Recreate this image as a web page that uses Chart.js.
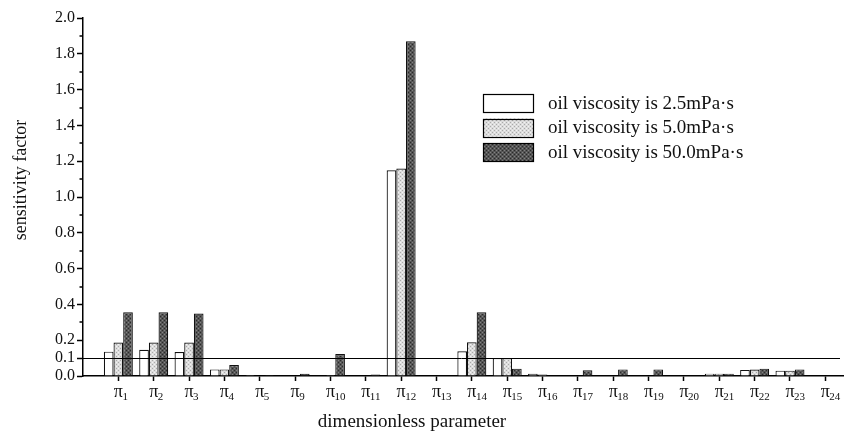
<!DOCTYPE html>
<html>
<head>
<meta charset="utf-8">
<script src="https://cdn.jsdelivr.net/npm/chart.js@4.4.0/dist/chart.umd.min.js"></script>
<style>
    body { margin: 0; background: #fff; }
    canvas { display: block; }
</style>
</head>
<body>
<canvas id="sensChart" width="848" height="433"></canvas>
<script>
// subscripts of the dimensionless parameters (pi_n)
const piIndex = [1, 2, 3, 4, 5, 9, 10, 11, 12, 13, 14, 15, 16, 17, 18, 19, 20, 21, 22, 23, 24];
const seriesLabels = ['oil viscosity is 2.5mPa\u00b7s', 'oil viscosity is 5.0mPa\u00b7s', 'oil viscosity is 50.0mPa\u00b7s'];

const visc25 = [0.136, 0.147, 0.134, 0.037, 0.006, 0, 0.004, 0, 1.149, 0, 0.138, 0.100, 0.012, 0, 0.003, 0.004, 0.004, 0.013, 0.034, 0.030, 0];
const visc50 = [0.187, 0.187, 0.187, 0.037, 0.003, 0, 0.005, 0, 1.159, 0, 0.188, 0.100, 0.008, 0.003, 0.003, 0.004, 0.004, 0.013, 0.036, 0.030, 0];
const visc500 = [0.356, 0.356, 0.349, 0.061, 0.005, 0.012, 0.123, 0.008, 1.870, 0, 0.356, 0.041, 0.004, 0.032, 0.037, 0.037, 0.004, 0.013, 0.041, 0.037, 0];

const yMajorLabels = [0.0, 0.1, 0.2, 0.4, 0.6, 0.8, 1.0, 1.2, 1.4, 1.6, 1.8, 2.0];
const threshold = 0.1;

const SERIF = '"Liberation Serif", "Times New Roman", serif';

function isMajor(v) {
    return yMajorLabels.some(m => Math.abs(m - v) < 1e-6);
}

function makePattern(base, dots) {
    const c = document.createElement('canvas');
    c.width = 4; c.height = 4;
    const g = c.getContext('2d');
    g.fillStyle = base;
    g.fillRect(0, 0, 4, 4);
    dots.forEach(d => {
        g.fillStyle = d[2];
        g.fillRect(d[0], d[1], 1, 1);
    });
    return g.createPattern(c, 'repeat');
}

const lightFill = makePattern('#dcdcdc', [[0, 0, '#aaa'], [2, 2, '#aaa'], [2, 0, '#f2f2f2'], [0, 2, '#f2f2f2']]);
const darkFill = makePattern('#555', [[0, 0, '#2a2a2a'], [2, 2, '#2a2a2a'], [2, 0, '#828282'], [0, 2, '#828282']]);

function toPoints(values) {
    return values.map((v, i) => ({ x: i + 1, y: v }));
}

const refMarks = {
    id: 'refMarks',
    afterDatasetsDraw(chart) {
        const { ctx, chartArea, scales: { y } } = chart;
        const ty = Math.round(y.getPixelForValue(threshold)) + 0.5;
        ctx.save();
        ctx.strokeStyle = '#000';
        ctx.lineWidth = 1;
        ctx.beginPath();
        ctx.moveTo(chartArea.left, ty);
        ctx.lineTo(chartArea.right - 3, ty);
        ctx.stroke();
        ctx.restore();
    },
    afterDraw(chart) {
        const { ctx, chartArea, scales: { x, y } } = chart;
        ctx.save();

        // minor y ticks
        ctx.strokeStyle = '#000';
        ctx.lineWidth = 1.5;
        y.ticks.forEach(t => {
            if (isMajor(t.value)) return;
            const py = Math.round(y.getPixelForValue(t.value));
            ctx.beginPath();
            ctx.moveTo(chartArea.left - 3.5, py);
            ctx.lineTo(chartArea.left, py);
            ctx.stroke();
        });

        // pi labels on the x axis
        ctx.fillStyle = '#111';
        ctx.textBaseline = 'alphabetic';
        piIndex.forEach((n, i) => {
            const px = x.getPixelForValue(i + 1);
            ctx.font = '18px ' + SERIF;
            ctx.textAlign = 'center';
            ctx.fillText('\u03c0', px, 397);
            const w = ctx.measureText('\u03c0').width;
            ctx.font = '11px ' + SERIF;
            ctx.textAlign = 'left';
            ctx.fillText(String(n), px + w / 2 - 0.5, 400);
        });

        // axis titles
        ctx.font = '19px ' + SERIF;
        ctx.textAlign = 'center';
        ctx.fillText('dimensionless parameter', 412, 427);

        ctx.save();
        ctx.translate(26, 180);
        ctx.rotate(-Math.PI / 2);
        ctx.font = '18px ' + SERIF;
        ctx.fillText('sensitivity factor', 0, 0);
        ctx.restore();

        // legend
        chart.data.datasets.forEach((ds, i) => {
            const top = 94 + i * 24.5;
            ctx.fillStyle = ds.backgroundColor;
            ctx.fillRect(483, top, 50, 18);
            ctx.strokeStyle = '#000';
            ctx.lineWidth = 1.2;
            ctx.strokeRect(483.5, Math.round(top) + 0.5, 50, 18);
            ctx.fillStyle = '#111';
            ctx.font = '19px ' + SERIF;
            ctx.textAlign = 'left';
            ctx.fillText(ds.label, 548, top + 14.5);
        });

        ctx.restore();
    }
};

const ctx = document.getElementById('sensChart').getContext('2d');
new Chart(ctx, {
    type: 'bar',
    data: {
        datasets: [
            { label: seriesLabels[0], data: toPoints(visc25), backgroundColor: '#ffffff' },
            { label: seriesLabels[1], data: toPoints(visc50), backgroundColor: lightFill },
            { label: seriesLabels[2], data: toPoints(visc500), backgroundColor: darkFill }
        ]
    },
    options: {
        responsive: false,
        animation: false,
        layout: { padding: { top: 18, right: 5, left: 0, bottom: 0 } },
        datasets: {
            bar: {
                borderColor: '#111',
                borderWidth: 1.2,
                categoryPercentage: 0.82,
                barPercentage: 1.0
            }
        },
        plugins: {
            legend: { display: false },
            tooltip: { enabled: false }
        },
        scales: {
            x: {
                type: 'linear',
                min: 0,
                max: 21.5,
                offset: false,
                afterBuildTicks: s => { s.ticks = piIndex.map((n, i) => ({ value: i + 1 })); },
                afterFit: s => { s.height = 57; },
                ticks: { display: false, autoSkip: false },
                grid: {
                    offset: false,
                    drawOnChartArea: false,
                    drawTicks: true,
                    tickLength: 5,
                    tickColor: '#000',
                    tickWidth: 1.5
                },
                border: { display: true, color: '#000', width: 1.5 }
            },
            y: {
                min: 0,
                max: 2,
                afterFit: s => { s.width = 83; },
                ticks: {
                    stepSize: 0.1,
                    autoSkip: false,
                    padding: 2,
                    color: '#111',
                    font: { family: SERIF, size: 16 },
                    callback: v => isMajor(v) ? v.toFixed(1) : ''
                },
                grid: {
                    drawOnChartArea: false,
                    drawTicks: true,
                    tickLength: 6,
                    tickWidth: 1.5,
                    tickColor: c => isMajor(c.tick.value) ? '#000' : 'rgba(0,0,0,0)'
                },
                border: { display: true, color: '#000', width: 1.5 }
            }
        }
    },
    plugins: [refMarks]
});
</script>
</body>
</html>
